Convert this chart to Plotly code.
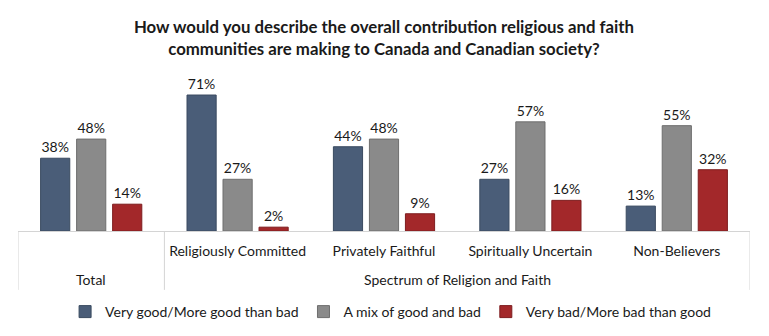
import plotly.graph_objects as go

# Survey groups and their display labels
groups = ["Total", "Religiously Committed", "Privately Faithful",
          "Spiritually Uncertain", "Non-Believers"]
tick_labels = ["", "Religiously Committed", "Privately Faithful",
               "Spiritually Uncertain", "Non-Believers"]

# Response shares (%)
very_good = [38, 71, 44, 27, 13]
mixed = [48, 27, 48, 57, 55]
very_bad = [14, 2, 9, 16, 32]

series_names = ["Very good/More good than bad", "A mix of good and bad",
                "Very bad/More bad than good"]
series_values = [very_good, mixed, very_bad]
series_colors = ["#4a5d78", "#8a8a8a", "#a3282a"]
series_edges = ["#3a4a60", "#6e6e6e", "#7e1d1f"]

FONT = "Lato"

fig = go.Figure()
for name, vals, col, edge in zip(series_names, series_values, series_colors, series_edges):
    fig.add_trace(go.Bar(
        name=name, x=groups, y=vals,
        marker=dict(color=col, line=dict(color=edge, width=1)),
        texttemplate="%{y}%", textposition="outside",
        textfont=dict(family=FONT, size=14, color="#1a1a1a"),
        cliponaxis=False,
    ))

# Frame around the category labels
frame = dict(type="line", yref="paper", y0=0, y1=-0.39,
             line=dict(color="#d4d4d4", width=1))
for xpos in [-0.5, 0.5, 4.5]:
    fig.add_shape(x0=xpos, x1=xpos, xref="x", **frame)

# Outer category level
fig.add_annotation(x="Total", y=-0.318, xref="x", yref="paper", text="Total",
                   showarrow=False, yanchor="middle",
                   font=dict(family=FONT, size=14, color="#1a1a1a"))
fig.add_annotation(x=2.5, y=-0.318, xref="x", yref="paper",
                   text="Spectrum of Religion and Faith",
                   showarrow=False, yanchor="middle",
                   font=dict(family=FONT, size=14, color="#1a1a1a"))

fig.update_layout(
    width=769, height=336,
    margin=dict(l=18, r=19, t=80, b=105),
    paper_bgcolor="white", plot_bgcolor="white",
    barmode="group", bargap=0.262, bargroupgap=0.19,
    title=dict(
        text="<b>How would you describe the overall contribution religious and faith<br>"
             "communities are making to Canada and Canadian society?</b>",
        x=0.5, xref="paper", xanchor="center",
        y=1 - 33 / 336, yref="container", yanchor="middle",
        font=dict(family=FONT, size=16.8, color="#1a1a1a"),
    ),
    xaxis=dict(
        type="category", categoryorder="array", categoryarray=groups,
        tickvals=groups, ticktext=tick_labels,
        showline=True, linecolor="#d4d4d4", linewidth=1,
        showgrid=False, ticks="", ticklabelstandoff=7,
        tickfont=dict(family=FONT, size=14, color="#1a1a1a"),
        range=[-0.5, 4.5],
    ),
    yaxis=dict(range=[0, 78.85], visible=False, showgrid=False),
    legend=dict(
        orientation="h", x=0.509, xanchor="center", xref="paper",
        y=1 - 312 / 336, yref="container", yanchor="middle",
        font=dict(family=FONT, size=14, color="#1a1a1a"),
        itemwidth=30, traceorder="normal",
    ),
    showlegend=True,
)

fig.write_html("out.html")
